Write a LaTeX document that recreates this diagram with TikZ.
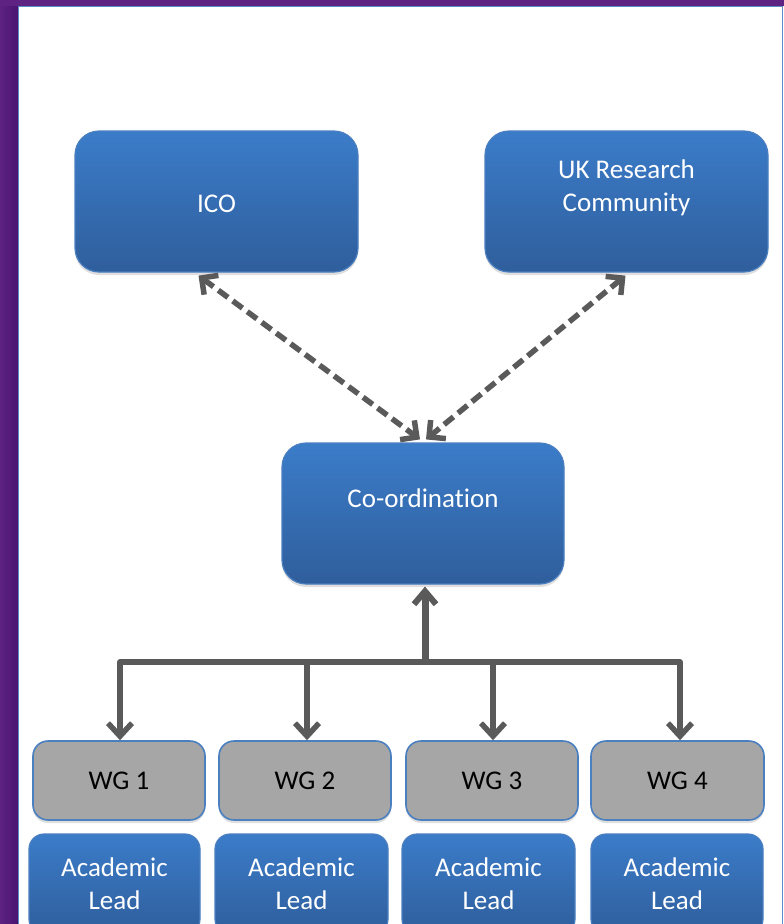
\documentclass[tikz,border=0pt]{standalone}
\usepackage{fontspec}
\setmainfont{Carlito}[Ligatures=NoCommon]
\usetikzlibrary{arrows.meta,shadows,calc}
\definecolor{purp}{HTML}{5E2282}
\definecolor{purpdark}{HTML}{4A1470}
\definecolor{edgeblue}{HTML}{5B8CC8}
\definecolor{btop}{HTML}{3B7CC9}
\definecolor{bbot}{HTML}{2F5E9C}
\definecolor{bborder}{HTML}{4A7FC0}
\definecolor{wggray}{HTML}{A6A6A6}
\definecolor{arrgray}{HTML}{5A5A5A}
\tikzset{
  txtfont/.style={font=\fontsize{27}{33}\selectfont},
  bluebox/.style={rectangle, rounded corners=24pt, top color=btop, bottom color=bbot,
    draw=bborder, line width=1.2pt, text=white, align=center, txtfont,
    drop shadow={opacity=0.25, shadow xshift=0pt, shadow yshift=-3pt}},
  graybox/.style={rectangle, rounded corners=15pt, fill=wggray,
    draw=bborder, line width=1.6pt, text=black, align=center, txtfont,
    drop shadow={opacity=0.25, shadow xshift=0pt, shadow yshift=-3pt}},
  albox/.style={rectangle, rounded corners=15pt, top color=btop, bottom color=bbot,
    draw=bborder, line width=1.2pt, text=white, align=center, txtfont},
  dasharr/.style={draw=arrgray, line width=5.5pt, dash pattern=on 12pt off 6pt,
    {Straight Barb[length=12pt,width=24pt,line width=5.5pt]}-{Straight Barb[length=12pt,width=24pt,line width=5.5pt]}},
  solidarr/.style={draw=arrgray, line width=5.5pt, line join=round,
    -{Straight Barb[length=13pt,width=24pt,line width=5.5pt]}},
  mainarr/.style={draw=arrgray, line width=7pt,
    -{Straight Barb[length=13pt,width=22pt,line width=6pt]}}
}
\begin{document}
\begin{tikzpicture}[x=1pt,y=-1pt]
\useasboundingbox (0,0) rectangle (784,924);
\clip (0,0) rectangle (784,924);
% frame
\fill[white] (0,0) rectangle (784,924);
\fill[left color=purp, right color=purpdark] (0,0) rectangle (17.5,924);
\fill[purp] (0,0) rectangle (784,5.5);
\draw[edgeblue, line width=1.5pt] (18.5,930) -- (18.5,6.5) -- (782.5,6.5) -- (782.5,930);
% top boxes
\node[bluebox, minimum width=283pt, minimum height=141pt] (ico) at (216.5,201.5) {};
\node[text=white, txtfont] (icotxt) at (216.5,204) {ICO};
\node[bluebox, minimum width=283pt, minimum height=141pt] (uk) at (626.5,201.5) {};
\node[text=white, txtfont, align=center] (uktxt) at (626.5,188) {UK Research\\Community};
% coordination
\node[bluebox, minimum width=282pt, minimum height=141pt] (coord) at (423,513.5) {};
\node[text=white, txtfont] (coordtxt) at (423,498) {Co-ordination};
% WG boxes
\node[graybox, minimum width=172pt, minimum height=79pt] (wg1) at (119,780.5) {WG 1};
\node[graybox, minimum width=172pt, minimum height=79pt] (wg2) at (305,780.5) {WG 2};
\node[graybox, minimum width=172pt, minimum height=79pt] (wg3) at (492,780.5) {WG 3};
\node[graybox, minimum width=173pt, minimum height=79pt] (wg4) at (677.5,780.5) {WG 4};
% academic leads
\node[albox, minimum width=171pt, minimum height=100pt] (al1) at (114.5,884) {Academic\\Lead};
\node[albox, minimum width=173pt, minimum height=100pt] (al2) at (301.5,884) {Academic\\Lead};
\node[albox, minimum width=173pt, minimum height=100pt] (al3) at (488.5,884) {Academic\\Lead};
\node[albox, minimum width=172pt, minimum height=100pt] (al4) at (677,884) {Academic\\Lead};
% dashed arrows
\draw[dasharr] ([xshift=-18pt,yshift=-3pt]ico.south) -- ([xshift=-3pt,yshift=3pt]coord.north);
\draw[dasharr] ([xshift=-1pt,yshift=-3pt]uk.south) -- ([xshift=3pt,yshift=3pt]coord.north);
% bus
\coordinate (j) at (425,662);
\draw[solidarr] (j) -| ([xshift=1pt,yshift=0pt]wg1.north);
\draw[solidarr] (j) -| ([xshift=2pt,yshift=0pt]wg2.north);
\draw[solidarr] (j) -| ([xshift=1pt,yshift=0pt]wg3.north);
\draw[solidarr] (j) -| ([xshift=2.5pt,yshift=0pt]wg4.north);
\draw[mainarr] ([yshift=2pt]j) -- ([xshift=2pt,yshift=-2pt]coord.south);
\end{tikzpicture}
\end{document}
